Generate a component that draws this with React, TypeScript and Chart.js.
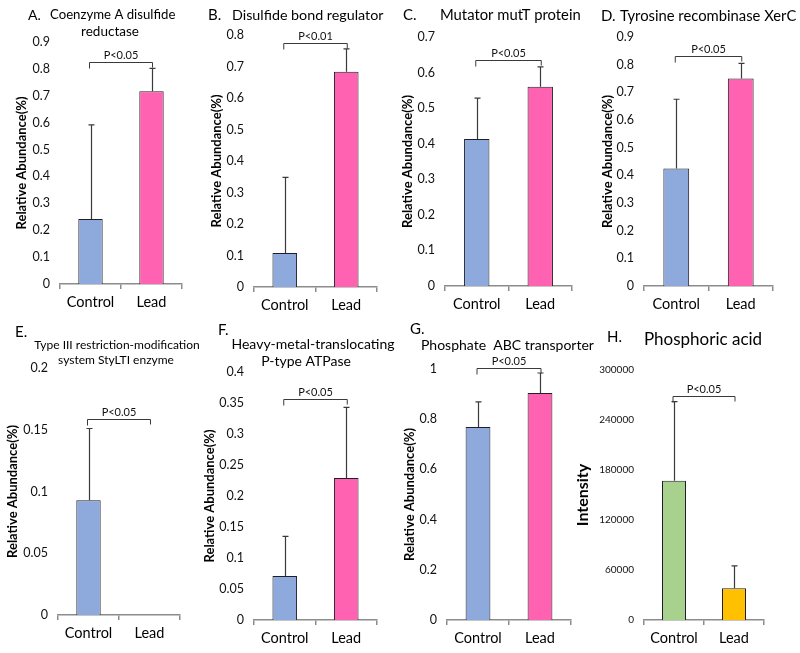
import React, { useEffect, useRef } from "react";
import { Chart, registerables } from "chart.js";
Chart.register(...registerables);

const FONT = "Lato, 'Open Sans', sans-serif";

const categories = ["Control", "Lead"];

const valuesA = [0.242, 0.717];
const errorsA = [0.35, 0.085];
const bracketA = 0.826;
const pA = "P<0.05";

const valuesB = [0.108, 0.683];
const errorsB = [0.24, 0.073];
const bracketB = 0.776;
const pB = "P<0.01";

const valuesC = [0.413, 0.56];
const errorsC = [0.115, 0.056];
const bracketC = 0.635;
const pC = "P<0.05";

const valuesD = [0.425, 0.75];
const errorsD = [0.25, 0.055];
const bracketD = 0.831;
const pD = "P<0.05";

const valuesE = [0.093, 0];
const errorsE = [0.058, 0];
const bracketE = 0.159;
const pE = "P<0.05";

const valuesF = [0.071, 0.229];
const errorsF = [0.064, 0.114];
const bracketF = 0.356;
const pF = "P<0.05";

const valuesG = [0.769, 0.904];
const errorsG = [0.1, 0.08];
const bracketG = 1.004;
const pG = "P<0.05";

const valuesH = [167000, 38000];
const errorsH = [95000, 27000];
const bracketH = 268800;
const pH = "P<0.05";

const BLUE = "#8EA9DB";
const PINK = "#FF62B0";
const GREEN = "#A9D18E";
const ORANGE = "#FFC000";

const RA = "Relative Abundance(%)";

type TitleItem = { t: string; x: number; y: number; align: CanvasTextAlign; size: number };

const panels = [
  {
    values: valuesA, errors: errorsA, bracket: bracketA, p: pA, colors: [BLUE, PINK],
    max: 0.9, step: 0.1, area: { L: 60, R: 182, T: 42, B: 284 },
    yLabel: RA, yLabelX: 22, yLabelSize: 13, tickSize: 12.5,
    titles: [
      { t: "A.", x: 28, y: 15, align: "left", size: 14 },
      { t: "Coenzyme A disulfide", x: 50, y: 15, align: "left", size: 13.2 },
      { t: "reductase", x: 110, y: 32, align: "center", size: 13.5 },
    ] as TitleItem[],
  },
  {
    values: valuesB, errors: errorsB, bracket: bracketB, p: pB, colors: [BLUE, PINK],
    max: 0.8, step: 0.1, area: { L: 254, R: 377, T: 35, B: 287 },
    yLabel: RA, yLabelX: 217, yLabelSize: 13, tickSize: 12.5,
    titles: [
      { t: "B.", x: 208, y: 15, align: "left", size: 15 },
      { t: "Disulfide bond regulator", x: 232, y: 15, align: "left", size: 14.3 },
    ] as TitleItem[],
  },
  {
    values: valuesC, errors: errorsC, bracket: bracketC, p: pC, colors: [BLUE, PINK],
    max: 0.7, step: 0.1, area: { L: 445, R: 572, T: 37, B: 286 },
    yLabel: RA, yLabelX: 408, yLabelSize: 13, tickSize: 12.5,
    titles: [
      { t: "C.", x: 403, y: 15, align: "left", size: 15 },
      { t: "Mutator mutT protein", x: 440, y: 15, align: "left", size: 14.8 },
    ] as TitleItem[],
  },
  {
    values: valuesD, errors: errorsD, bracket: bracketD, p: pD, colors: [BLUE, PINK],
    max: 0.9, step: 0.1, area: { L: 644, R: 773, T: 37, B: 286 },
    yLabel: RA, yLabelX: 608, yLabelSize: 13, tickSize: 12.5,
    titles: [
      { t: "D.", x: 601, y: 16, align: "left", size: 15 },
      { t: "Tyrosine recombinase XerC", x: 620, y: 16, align: "left", size: 14.8 },
    ] as TitleItem[],
  },
  {
    values: valuesE, errors: errorsE, bracket: bracketE, p: pE, colors: [BLUE, PINK],
    max: 0.2, step: 0.05, area: { L: 58, R: 180, T: 368, B: 615 },
    yLabel: RA, yLabelX: 13, yLabelSize: 13, tickSize: 12.5,
    titles: [
      { t: "E.", x: 15, y: 332, align: "left", size: 15 },
      { t: "Type III restriction-modification", x: 117, y: 345, align: "center", size: 12 },
      { t: "system StyLTI enzyme", x: 116, y: 360, align: "center", size: 12 },
    ] as TitleItem[],
  },
  {
    values: valuesF, errors: errorsF, bracket: bracketF, p: pF, colors: [BLUE, PINK],
    max: 0.4, step: 0.05, area: { L: 254, R: 377, T: 372, B: 620 },
    yLabel: RA, yLabelX: 210, yLabelSize: 13, tickSize: 12.5,
    titles: [
      { t: "F.", x: 218, y: 330, align: "left", size: 15 },
      { t: "Heavy-metal-translocating", x: 313, y: 344, align: "center", size: 14 },
      { t: "P-type ATPase", x: 306, y: 361, align: "center", size: 14 },
    ] as TitleItem[],
  },
  {
    values: valuesG, errors: errorsG, bracket: bracketG, p: pG, colors: [BLUE, PINK],
    max: 1, step: 0.2, area: { L: 447, R: 571, T: 369, B: 620 },
    yLabel: RA, yLabelX: 410, yLabelSize: 13, tickSize: 12.5,
    titles: [
      { t: "G.", x: 410, y: 329, align: "left", size: 15 },
      { t: "Phosphate  ABC transporter", x: 421, y: 345, align: "left", size: 14 },
    ] as TitleItem[],
  },
  {
    values: valuesH, errors: errorsH, bracket: bracketH, p: pH, colors: [GREEN, ORANGE],
    max: 300000, step: 60000, area: { L: 644, R: 764, T: 370, B: 620 },
    yLabel: "Intensity", yLabelX: 583, yLabelSize: 16, tickSize: 10,
    titles: [
      { t: "H.", x: 607, y: 337, align: "left", size: 15 },
      { t: "Phosphoric acid", x: 703, y: 340, align: "center", size: 17 },
    ] as TitleItem[],
  },
];

const W = 800;
const H = 653;
const YW = 50;
const XH = 32;

const decorPlugin = {
  id: "decor",
  afterDatasetsDraw(chart: any, _args: any, opts: any) {
    const p = opts.panel;
    if (!p) return;
    const ctx = chart.ctx as CanvasRenderingContext2D;
    const ys = chart.scales.y;
    const meta = chart.getDatasetMeta(0);
    ctx.save();
    ctx.strokeStyle = "#3a3a3a";
    ctx.lineWidth = 1.2;
    p.values.forEach((v: number, i: number) => {
      const e = p.errors[i];
      if (!e) return;
      const x = Math.round(meta.data[i].x) + 0.5;
      const y0 = ys.getPixelForValue(v);
      const y1 = ys.getPixelForValue(v + e);
      ctx.beginPath();
      ctx.moveTo(x, y0);
      ctx.lineTo(x, y1);
      ctx.moveTo(x - 3, y1);
      ctx.lineTo(x + 3, y1);
      ctx.stroke();
    });
    const x0 = meta.data[0].x - 1;
    const x1 = meta.data[1].x + 1;
    const yb = Math.round(ys.getPixelForValue(p.bracket)) + 0.5;
    ctx.lineWidth = 1;
    ctx.beginPath();
    ctx.moveTo(x0, yb + 6);
    ctx.lineTo(x0, yb);
    ctx.lineTo(x1, yb);
    ctx.lineTo(x1, yb + 5);
    ctx.stroke();
    ctx.fillStyle = "#111";
    ctx.font = `11px ${FONT}`;
    ctx.textAlign = "center";
    ctx.textBaseline = "bottom";
    ctx.fillText(p.p, (x0 + x1) / 2, yb - 2);
    ctx.restore();
  },
  afterDraw(chart: any, _args: any, opts: any) {
    const p = opts.panel;
    if (!p) return;
    const ctx = chart.ctx as CanvasRenderingContext2D;
    const area = chart.chartArea;
    ctx.save();
    ctx.fillStyle = "#000";
    ctx.textBaseline = "middle";
    p.titles.forEach((t: TitleItem) => {
      ctx.font = `${t.size}px ${FONT}`;
      ctx.textAlign = t.align;
      ctx.fillText(t.t, t.x, t.y);
    });
    ctx.translate(p.yLabelX, (area.top + area.bottom) / 2);
    ctx.rotate(-Math.PI / 2);
    ctx.font = `bold ${p.yLabelSize}px ${FONT}`;
    ctx.textAlign = "center";
    ctx.fillText(p.yLabel, 0, 0);
    ctx.restore();
  },
};

function Panel({ cfg }: { cfg: (typeof panels)[number] }) {
  const ref = useRef<HTMLCanvasElement | null>(null);
  useEffect(() => {
    if (!ref.current) return;
    const { L, R, T, B } = cfg.area;
    const chart = new Chart(ref.current, {
      type: "bar",
      data: {
        labels: categories,
        datasets: [
          {
            data: cfg.values,
            backgroundColor: cfg.colors,
            borderColor: "#1f1f2a",
            borderWidth: 1,
            barPercentage: 0.4,
            categoryPercentage: 1,
          },
        ],
      },
      plugins: [decorPlugin],
      options: {
        animation: false,
        responsive: false,
        maintainAspectRatio: false,
        layout: {
          padding: { left: L - YW, right: W - R, top: T, bottom: H - B - XH },
        },
        plugins: {
          legend: { display: false },
          tooltip: { enabled: false },
          title: { display: false },
          decor: { panel: cfg },
        } as any,
        scales: {
          x: {
            type: "category",
            offset: true,
            grid: {
              display: true,
              drawOnChartArea: false,
              drawTicks: true,
              tickLength: 5,
              color: "#8c8c8c",
              lineWidth: 1.5,
              offset: true,
            },
            border: { display: true, color: "#8c8c8c", width: 1.5 },
            ticks: { font: { family: FONT, size: 14.5 }, color: "#000", padding: 5 },
            afterFit: (s: any) => {
              s.height = XH;
            },
          },
          y: {
            min: 0,
            max: cfg.max,
            ticks: {
              stepSize: cfg.step,
              font: { family: FONT, size: cfg.tickSize },
              color: "#111",
              padding: 10,
              callback: (v: any) => String(+Number(v).toFixed(6)),
            },
            grid: { display: false, drawTicks: false },
            border: { display: false },
            afterFit: (s: any) => {
              s.width = YW;
            },
          },
        },
      },
    });
    return () => chart.destroy();
  }, [cfg]);
  return (
    <canvas
      ref={ref}
      width={W}
      height={H}
      style={{ position: "absolute", left: 0, top: 0, width: W, height: H }}
    />
  );
}

export default function App() {
  return (
    <div style={{ position: "absolute", left: 0, top: 0, width: W, height: H, background: "#fff" }}>
      {panels.map((p, i) => (
        <Panel key={i} cfg={p} />
      ))}
    </div>
  );
}
